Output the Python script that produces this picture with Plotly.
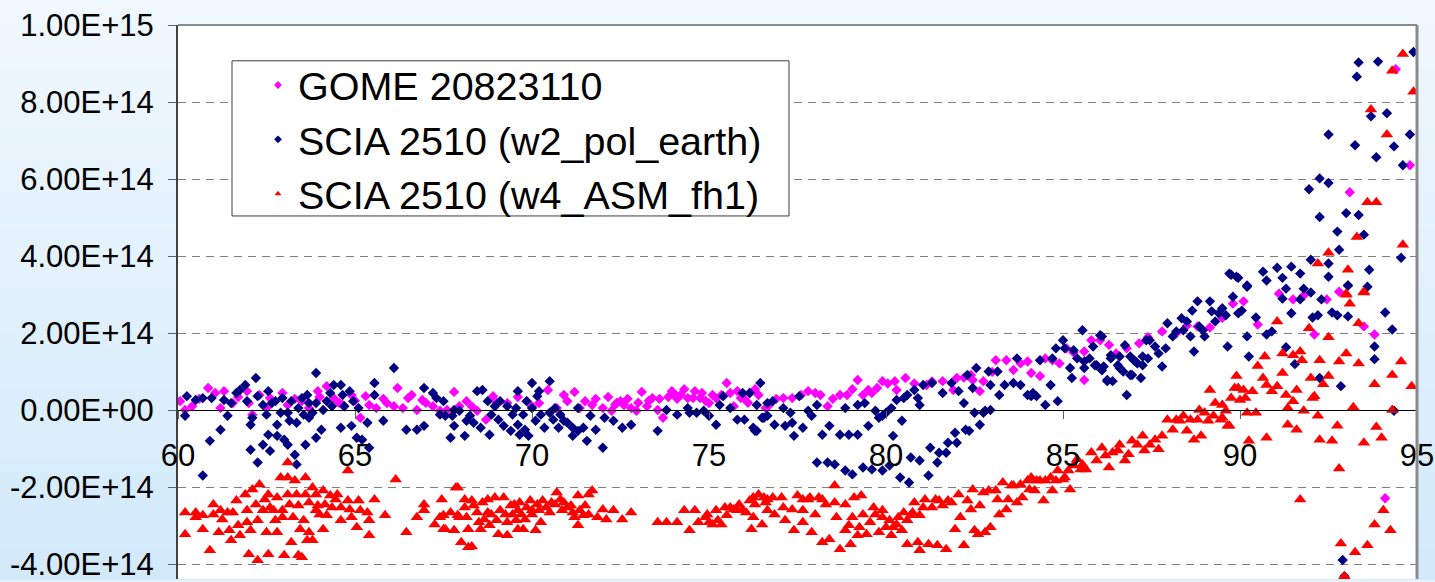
import plotly.graph_objects as go

# ---------------- data (x in degrees, y in units of 1e14) ----------------
gome_pts = [
(60.06,0.24),(60.2,0.01),(60.4,0.11),(60.6,0.30),(60.85,0.58),(61.05,0.45),(61.2,0.06),(61.3,0.50),(61.55,0.19),(61.7,0.35),
(61.95,0.50),(62.0,0.19),(62.1,-0.11),(62.3,0.40),(62.5,0.06),(62.6,0.32),(62.95,0.45),(63.1,0.14),(63.3,0.30),(63.5,0.24),
(63.7,0.06),(63.95,0.50),(64.0,0.35),(64.2,0.63),(64.4,0.32),(64.55,0.20),(64.65,0.14),(64.9,0.40),(65.0,0.25),(65.15,-0.19),
(65.3,0.37),(65.4,0.14),(65.6,0.06),(65.8,0.30),(65.9,0.19),(66.1,0.11),(66.2,0.58),(66.35,0.06),(66.5,0.32),(66.6,0.40),
(66.75,0.01),(66.9,0.27),(67.0,0.20),(67.2,0.11),(67.4,-0.01),(67.6,0.01),(67.8,0.48),(67.95,0.11),(68.15,0.24),(68.3,0.10),
(68.45,-0.01),(68.7,-0.24),(68.9,0.37),(69.0,0.20),(69.3,0.19),(69.6,0.35),(69.85,0.24),(70.0,0.10),(70.2,0.19),(70.45,0.53),
(70.7,0.06),(70.9,0.40),(71.0,0.24),(71.2,0.48),(71.35,0.06),(71.5,0.24),(71.7,0.14),(71.8,0.30),(72.0,0.06),(72.15,0.35),
(72.25,-0.01),(72.35,0.15),(72.4,0.20),(72.5,0.24),(72.6,0.14),(72.7,0.30),(72.8,0.06),(72.95,-0.01),(73.0,0.20),(73.1,0.48),
(73.25,0.11),(73.3,0.25),(73.4,0.32),(73.55,0.01),(73.6,0.30),(73.7,-0.19),(73.85,0.35),(73.95,0.50),(74.0,0.45),(74.1,0.30),
(74.2,0.40),(74.3,0.55),(74.4,0.32),(74.55,0.32),(74.6,0.50),(74.75,0.32),(74.8,0.45),(74.9,0.25),(75.0,0.19),(75.1,0.40),
(75.2,0.32),(75.35,0.40),(75.5,0.71),(75.6,0.45),(75.7,0.11),(75.8,0.50),(75.9,0.32),(76.0,0.30),(76.1,0.20),(76.15,0.45),
(76.3,0.55),(76.4,0.40),(76.6,0.06),(76.7,0.14),(76.9,0.30),(77.1,0.32),(77.35,0.32),(77.6,0.40),(77.8,0.50),(78.0,0.45),
(78.15,0.40),(78.35,0.11),(78.5,0.30),(78.7,0.40),(78.9,0.40),(79.05,0.55),(79.2,0.79),(79.35,0.40),(79.5,0.53),(79.6,0.45),
(79.75,0.58),(79.9,0.76),(80.05,0.70),(80.25,0.76),(80.3,0.53),(80.55,0.84),(80.8,0.70),(81.15,0.66),(81.3,0.75),(81.6,0.76),
(81.9,0.53),(82.0,0.84),(82.2,0.85),(82.4,0.92),(82.45,0.79),(82.65,0.50),(82.75,0.76),(83.0,1.00),(83.1,1.30),(83.4,1.30),
(83.6,1.05),(83.8,1.22),(84.0,1.27),(84.1,0.97),(84.35,0.89),(84.5,1.35),(84.7,1.30),(84.9,1.22),(85.1,1.61),(85.3,1.50),
(85.6,0.79),(85.6,1.53),(85.8,1.82),(86.05,1.82),(86.3,1.70),(86.5,1.48),(86.8,1.61),(87.15,1.74),(87.4,1.90),(87.8,2.05),
(88.2,2.00),(88.5,2.20),(88.8,2.18),(89.15,2.15),(89.5,2.40),(89.8,2.77),(90.1,2.83),(90.5,2.23),(91.1,3.03),(91.5,2.88),
(91.8,2.98),(92.1,1.97),(92.45,2.88),(92.8,3.08),(93.1,5.66),(93.5,2.18),(93.8,1.97),(94.1,-2.28),(94.4,8.85),(94.8,6.36),
]

w2_pts = [
(60.25,0.37),(60.2,-0.14),(60.5,0.27),(60.7,-1.69),(60.7,0.32),(60.9,-0.79),(60.95,0.32),(61.2,-0.50),(61.3,0.27),(61.4,-0.14),
(61.5,0.19),(61.65,0.45),(61.75,0.53),(61.9,0.66),(61.95,0.24),(62.05,-0.37),(62.05,-1.02),(62.1,-0.19),(62.2,0.84),(62.25,-1.35),
(62.25,0.37),(62.4,-0.89),(62.4,0.14),(62.5,-0.11),(62.55,0.50),(62.55,-0.63),(62.6,-1.05),(62.65,0.19),(62.75,0.24),(62.8,-0.37),
(62.8,-0.66),(62.9,-0.06),(62.95,0.32),(63.0,-0.76),(63.1,-0.06),(63.1,-0.89),(63.15,-0.27),(63.2,0.24),(63.3,-1.15),(63.35,-1.40),
(63.35,-0.32),(63.4,0.06),(63.5,0.32),(63.55,-0.11),(63.6,-0.89),(63.65,0.40),(63.7,0.19),(63.7,-0.19),(63.8,-0.06),(63.9,-0.71),
(63.9,0.97),(63.9,0.19),(64.05,-0.50),(64.1,0.01),(64.2,0.24),(64.3,0.45),(64.35,0.11),(64.4,0.66),(64.6,-0.45),(64.6,0.66),
(64.65,0.40),(64.7,0.11),(64.85,0.50),(64.9,-0.40),(64.95,0.24),(65.05,-0.71),(65.1,0.06),(65.2,-0.76),(65.35,-0.32),(65.4,-0.97),
(65.55,0.71),(65.55,0.40),(65.8,-0.27),(66.1,1.10),(66.45,-0.50),(66.75,-0.50),(66.95,0.58),(66.95,-0.40),(67.2,0.45),(67.3,0.32),
(67.4,-0.11),(67.5,0.24),(67.55,-0.14),(67.7,-0.71),(67.75,-0.14),(67.8,0.01),(67.8,-0.40),(67.95,-0.01),(68.1,-0.66),(68.15,-0.27),
(68.25,-0.14),(68.35,-0.32),(68.45,0.50),(68.55,-0.45),(68.6,0.53),(68.75,0.24),(68.8,-0.63),(68.85,-0.11),(68.95,0.11),(69.05,-0.24),
(69.1,0.24),(69.2,-0.40),(69.3,0.11),(69.4,-0.53),(69.45,-0.11),(69.55,0.06),(69.6,0.50),(69.6,-0.37),(69.65,-0.63),(69.75,-0.11),
(69.8,-0.50),(69.85,0.24),(69.9,-0.66),(70.0,0.71),(70.0,0.06),(70.1,-0.27),(70.15,0.37),(70.2,0.50),(70.25,-0.11),(70.35,-0.45),
(70.5,0.76),(70.5,-0.06),(70.6,-0.24),(70.65,0.06),(70.75,-0.45),(70.8,-0.11),(70.9,-0.27),(71.0,-0.32),(71.15,-0.66),(71.15,-0.45),
(71.3,0.06),(71.3,-0.53),(71.45,-0.45),(71.55,-0.79),(71.65,-0.14),(71.8,-0.50),(72.0,-0.97),(72.05,-0.19),(72.3,-0.27),(72.55,-0.45),
(72.8,-0.37),(73.55,-0.53),(73.8,0.01),(74.1,-0.11),(74.4,0.06),(74.45,-0.06),(74.65,-0.06),(74.85,-0.01),(75.0,-0.14),(75.2,-0.37),
(75.3,0.14),(75.4,0.37),(75.6,0.06),(75.8,-0.24),(75.95,0.45),(76.0,-0.24),(76.15,0.45),(76.25,-0.45),(76.35,-0.53),(76.45,0.71),
(76.55,-0.19),(76.65,0.19),(76.35,0.14),(76.3,-0.53),(76.5,-0.19),(76.65,-0.14),(76.8,0.24),(76.85,-0.37),(77.1,0.06),(77.15,-0.40),
(77.3,-0.06),(77.4,-0.66),(77.35,-0.32),(77.55,0.37),(77.65,-0.45),(77.8,-0.01),(77.9,-0.14),(78.05,0.14),(78.05,-1.35),(78.2,-0.63),
(78.35,-1.35),(78.4,-0.40),(78.55,-1.40),(78.7,-0.63),(78.85,0.06),(78.85,-1.56),(78.95,-0.63),(79.05,-1.66),(79.2,0.14),(79.2,-0.63),
(79.35,-1.48),(79.4,0.19),(79.5,-0.40),(79.6,-1.53),(79.7,-0.01),(79.9,-1.56),(79.8,-0.19),(79.9,-0.14),(80.0,-0.06),(80.1,-1.43),
(80.2,-0.66),(80.15,0.06),(80.3,0.27),(80.4,-1.74),(80.45,-0.27),(80.5,0.32),(80.6,0.40),(80.7,-1.22),(80.65,-1.87),(80.8,0.53),
(80.9,0.32),(80.95,-1.30),(80.95,0.14),(81.05,0.66),(81.2,-1.69),(81.25,-0.97),(81.3,0.71),(81.45,-1.35),(81.5,-1.10),(81.6,0.45),
(81.7,-1.10),(81.75,-0.84),(81.85,0.71),(81.95,-0.58),(82.0,-0.84),(82.05,0.50),(82.2,0.19),(82.25,-0.50),(82.3,0.92),(82.35,-0.53),
(82.45,0.58),(82.5,-0.06),(82.55,1.10),(82.65,-0.37),(82.75,-0.06),(82.8,-0.01),(82.9,1.01),(82.95,0.01),(82.95,0.66),(83.15,1.01),
(83.2,0.40),(83.35,0.66),(83.6,0.71),(83.7,1.35),(83.8,0.66),(84.0,0.40),(84.1,0.37),(84.15,0.45),(84.25,0.37),(84.35,1.30),
(84.5,0.14),(84.65,0.66),(84.7,1.35),(84.8,1.61),(84.85,0.24),(85.0,1.82),(85.05,1.61),(85.2,1.10),(85.25,0.84),(85.3,1.56),
(85.4,1.35),(85.55,2.08),(85.6,1.10),(85.75,1.35),(85.85,1.66),(85.95,1.17),(86.05,1.95),(86.1,1.04),(86.25,0.76),(86.35,1.35),
(86.55,1.17),(86.6,1.40),(86.75,1.69),(86.8,0.40),(86.9,0.92),(87.0,1.30),(87.1,1.22),(87.2,0.84),(87.25,1.40),(87.35,1.82),
(85.6,1.27),(85.9,1.17),(86.1,1.92),(86.15,1.14),(86.25,0.79),(86.35,1.43),(86.4,0.76),(86.6,1.10),(86.7,1.01),(86.9,1.40),
(86.95,0.92),(87.05,1.27),(87.25,1.17),(87.4,1.35),(87.45,1.82),(87.6,1.66),(87.7,1.48),(87.8,1.14),(87.9,1.61),(87.95,2.26),
(88.1,1.92),(88.2,2.05),(88.35,2.39),(88.4,2.08),(88.5,2.31),(88.6,1.92),(88.65,2.59),(88.7,1.53),(88.8,2.83),(88.85,2.18),
(88.95,2.08),(89.0,1.92),(89.15,2.83),(89.2,2.57),(89.3,2.31),(89.4,2.52),(89.5,2.65),(89.6,2.47),(89.65,1.66),(89.7,3.55),
(89.8,2.95),(89.9,3.47),(89.95,2.52),(90.05,2.59),(90.2,3.21),(90.2,1.92),(90.25,1.40),(90.45,2.41),(90.75,1.97),(90.9,2.05),
(91.2,2.90),(91.3,1.64),(91.45,2.52),(91.55,1.20),(91.7,2.88),(91.8,3.16),(92.0,3.06),(92.05,2.41),(92.2,2.47),(92.25,0.84),
(92.3,2.88),(92.6,2.54),(92.75,2.47),(92.85,0.63),(93.05,3.24),(93.05,2.44),(93.6,3.21),(93.8,1.33),(93.8,1.66),(94.1,2.54),
(94.3,2.10),(94.35,-0.01),(92.9,-3.88),(92.95,-4.30),(89.75,3.52),(89.95,3.44),(90.2,3.24),(90.65,3.60),(90.75,3.37),(91.05,3.70),
(91.2,3.44),(91.3,3.16),(91.45,3.73),(91.7,3.55),(92.0,3.91),(92.25,5.02),(91.95,5.74),(92.25,6.02),(92.5,5.90),(92.5,7.16),
(92.5,3.81),(92.5,3.47),(92.75,4.64),(92.8,4.17),(93.0,5.12),(93.05,3.24),(93.25,6.88),(93.3,8.66),(93.35,9.03),(93.35,5.07),
(93.5,4.56),(93.65,3.65),(93.7,7.63),(93.85,6.57),(93.9,9.05),(94.15,7.71),(94.35,6.85),(94.55,3.96),(94.6,6.36),(94.8,7.16),
(94.9,9.30),
]

w4_pts = [
(60.2,-2.65),(60.2,-3.21),(60.5,-2.65),(60.5,-2.77),(60.7,-3.08),(60.7,-2.72),(60.9,-3.63),(61.0,-2.44),(61.0,-2.70),(61.15,-3.16),
(61.2,-2.59),(61.25,-2.83),(61.4,-2.65),(61.45,-3.11),(61.5,-3.37),(61.55,-2.65),(61.65,-2.34),(61.7,-2.98),(61.75,-3.24),(61.95,-2.59),
(61.9,-2.18),(61.95,-2.90),(62.05,-3.11),(62.0,-3.73),(62.1,-2.05),(62.2,-2.44),(62.25,-2.85),(62.25,-3.89),(62.3,-1.92),(62.4,-2.59),
(62.45,-2.31),(62.5,-3.16),(62.55,-3.73),(62.55,-2.18),(62.6,-2.52),(62.7,-2.59),(62.75,-2.85),(62.8,-3.16),(62.8,-2.26),(62.9,-1.74),
(62.95,-2.77),(62.95,-2.59),(63.0,-3.76),(63.1,-2.18),(63.1,-1.35),(63.1,-1.74),(63.15,-2.44),(63.2,-3.42),(63.25,-2.77),(63.3,-1.82),
(63.35,-2.18),(63.4,-2.47),(63.4,-3.76),(63.45,-3.08),(63.5,-3.81),(63.55,-2.85),(63.6,-1.74),(63.6,-2.18),(63.65,-3.37),(63.7,-2.39),
(63.7,-3.16),(63.8,-3.37),(63.8,-2.00),(63.9,-2.59),(63.9,-2.18),(63.95,-2.47),(64.0,-2.70),(64.1,-2.08),(64.1,-3.08),(64.15,-2.44),
(64.2,-2.72),(64.3,-2.21),(64.35,-2.52),(64.45,-2.31),(64.5,-2.18),(64.6,-2.52),(64.6,-2.85),(64.8,-1.56),(64.8,-2.34),(64.85,-2.57),
(64.9,-2.77),(65.05,-3.03),(65.1,-2.34),(65.15,-2.59),(65.35,-2.65),(65.4,-2.85),(65.4,-3.24),(65.55,-2.31),(65.85,-2.72),(66.15,-1.79),
(66.45,-3.16),(66.75,-2.77),(66.95,-2.44),(66.95,-2.59),(67.25,-2.96),(67.4,-2.77),(67.45,-2.31),(67.5,-3.08),(67.7,-2.65),(67.8,-3.11),
(67.9,-2.00),(67.95,-2.77),(68.0,-3.42),(68.1,-2.31),(68.1,-2.52),(68.2,-3.08),(68.2,-3.55),(67.5,-2.72),(67.55,-3.08),(67.85,-2.00),
(67.9,-2.72),(68.15,-2.77),(68.3,-3.53),(68.3,-2.34),(68.35,-2.47),(68.45,-2.65),(68.5,-2.90),(68.55,-3.08),(68.6,-2.39),(68.65,-2.83),
(68.75,-2.31),(68.75,-2.65),(68.8,-2.98),(68.85,-2.70),(68.95,-2.26),(69.0,-2.85),(69.05,-3.21),(69.1,-2.59),(69.2,-2.26),(69.25,-2.70),
(69.3,-2.90),(69.3,-3.24),(69.4,-2.47),(69.45,-2.70),(69.5,-2.44),(69.55,-2.85),(69.6,-3.08),(69.6,-2.59),(69.65,-2.39),(69.7,-2.70),
(69.75,-3.08),(69.8,-2.83),(69.85,-2.52),(69.95,-2.34),(70.0,-2.59),(70.0,-2.70),(70.1,-3.11),(70.15,-2.44),(70.2,-2.59),(70.25,-2.90),
(70.3,-2.34),(70.4,-2.52),(70.5,-2.65),(70.55,-2.39),(70.65,-2.44),(70.7,-2.13),(70.8,-2.31),(70.85,-2.59),(70.9,-2.39),(71.0,-2.52),
(71.1,-2.47),(71.15,-2.65),(71.2,-2.77),(71.3,-2.98),(71.3,-2.21),(71.35,-2.59),(71.45,-2.72),(71.5,-2.47),(71.6,-2.18),(71.6,-2.70),
(71.7,-2.08),(71.85,-2.77),(72.0,-2.57),(72.1,-2.83),(72.3,-2.59),(72.55,-2.83),(72.8,-2.65),(73.55,-2.90),(73.8,-2.90),(74.1,-2.90),
(74.3,-2.59),(74.45,-3.11),(74.6,-2.59),(74.7,-2.90),(74.9,-2.77),(74.95,-2.70),(75.0,-2.90),(75.1,-2.96),(75.2,-2.59),(75.25,-2.85),
(75.35,-2.96),(75.45,-2.52),(75.5,-2.72),(75.6,-2.52),(75.7,-2.57),(75.8,-2.59),(75.85,-2.44),(75.95,-2.59),(76.05,-2.65),(76.15,-2.34),
(76.2,-3.08),(76.3,-2.44),(76.4,-2.18),(76.5,-2.96),(76.55,-2.26),(76.65,-2.59),(76.25,-2.26),(76.25,-2.77),(76.6,-2.39),(76.65,-2.31),
(76.8,-2.26),(76.85,-2.70),(77.05,-2.26),(77.1,-2.52),(77.15,-2.85),(77.35,-2.57),(77.4,-3.11),(77.5,-2.21),(77.65,-2.31),(77.65,-2.59),
(77.65,-2.90),(77.8,-2.31),(77.85,-2.26),(77.9,-3.16),(78.0,-2.70),(78.1,-2.26),(78.2,-2.31),(78.2,-3.42),(78.3,-2.44),(78.4,-3.34),
(78.55,-1.95),(78.55,-2.39),(78.6,-2.77),(78.7,-3.60),(78.85,-2.44),(78.85,-3.11),(78.95,-2.98),(79.0,-3.47),(79.05,-2.77),(79.1,-2.26),
(79.2,-3.24),(79.25,-3.03),(79.3,-2.21),(79.35,-2.70),(79.45,-3.21),(79.55,-2.90),(79.65,-2.52),(79.7,-2.70),(79.8,-3.16),(79.9,-2.59),
(79.9,-2.77),(80.0,-3.03),(80.1,-2.85),(80.15,-3.24),(80.2,-3.03),(80.3,-2.96),(80.35,-2.77),(80.45,-3.11),(80.5,-2.65),(80.6,-3.47),
(80.6,-2.85),(80.7,-2.72),(80.75,-2.65),(80.8,-2.39),(80.9,-3.42),(80.95,-2.72),(80.95,-3.63),(81.05,-2.52),(81.1,-2.31),(81.2,-3.47),
(81.3,-2.52),(81.4,-2.31),(81.45,-3.50),(81.5,-2.34),(81.6,-2.47),(81.7,-3.60),(81.75,-2.34),(81.85,-2.39),(81.95,-3.08),(82.05,-2.18),
(82.1,-2.77),(82.2,-3.50),(82.3,-2.34),(82.4,-2.57),(82.45,-2.05),(82.5,-3.11),(82.6,-3.21),(82.65,-2.47),(82.75,-2.13),(82.8,-3.16),
(82.9,-2.08),(82.95,-3.03),(83.1,-2.08),(83.15,-2.31),(83.2,-2.70),(83.3,-1.87),(83.4,-2.57),(83.45,-2.31),(83.55,-1.95),(83.6,-1.95),
(83.7,-2.39),(83.8,-1.92),(83.85,-2.26),(84.0,-1.82),(84.05,-2.05),(84.1,-1.74),(84.2,-2.08),(84.25,-1.82),(84.35,-1.82),(84.45,-2.34),
(84.5,-1.82),(84.65,-1.74),(84.7,-2.08),(84.8,-1.82),(84.85,-1.56),(85.0,-1.79),(85.05,-1.74),(85.15,-1.56),(85.2,-2.05),(85.3,-1.43),
(85.4,-1.27),(85.5,-1.53),(85.55,-1.40),(85.65,-1.53),(85.8,-1.09),(85.95,-1.30),(86.1,-0.97),(86.2,-1.17),(86.3,-1.48),(86.4,-1.09),
(86.55,-1.04),(86.6,-0.89),(86.75,-1.30),(86.85,-1.14),(86.95,-0.79),(87.1,-0.89),(87.25,-0.66),(87.3,-1.04),(87.45,-0.89),(87.6,-0.76),
(87.7,-1.01),(87.8,-0.66),(87.95,-0.24),(88.1,-0.50),(88.2,-0.24),(88.3,-0.27),(88.4,-0.14),(88.5,-0.53),(88.6,-0.24),(88.7,-0.76),
(88.8,-0.24),(88.85,0.01),(88.9,-0.66),(89.0,-0.06),(89.1,-0.27),(89.25,-0.14),(89.3,0.19),(89.45,-0.24),(89.5,0.14),(89.6,-0.01),
(89.7,-0.40),(89.75,0.32),(89.85,0.58),(89.9,0.89),(90.0,0.27),(90.1,0.53),(89.15,0.53),(89.5,-0.19),(89.65,-0.40),(89.95,0.58),
(90.15,0.32),(90.2,-0.06),(90.25,-0.79),(90.35,0.50),(90.45,-0.06),(90.5,1.15),(90.65,0.84),(90.7,1.40),(90.75,-0.71),(90.75,0.66),
(90.9,0.50),(91.05,0.63),(91.05,2.31),(91.2,0.97),(91.2,1.48),(91.3,0.40),(91.35,-0.37),(91.35,0.06),(91.5,1.43),(91.5,0.24),
(91.6,0.53),(91.6,-0.50),(91.7,1.53),(91.7,-2.31),(91.75,1.30),(91.8,-0.01),(91.95,2.13),(92.0,0.84),(92.05,0.32),(92.1,0.37),
(92.2,-0.14),(92.25,1.30),(92.25,-0.76),(92.35,0.68),(92.5,0.89),(92.5,1.90),(92.6,-0.79),(92.75,-0.40),(92.8,-1.51),(92.8,1.27),
(92.85,-3.45),(93.0,1.48),(93.0,3.00),(93.1,2.77),(93.2,0.08),(93.25,-3.68),(93.35,1.22),(93.35,2.26),(93.5,3.08),(93.5,-0.84),
(93.6,-3.50),(93.8,-2.96),(93.8,0.68),(93.85,-0.43),(94.0,-0.71),(94.05,-2.59),(94.25,-3.11),(94.3,0.92),(94.3,0.01),(94.55,1.27),
(94.85,0.63),(92.95,-4.30),(92.2,3.81),(92.5,4.09),(93.05,3.65),(93.0,3.03),(93.3,4.50),(93.5,3.06),(93.6,5.40),(93.85,5.40),
(93.7,7.81),(94.15,7.16),(94.3,8.81),(94.6,4.30),(94.6,9.25),(94.9,8.27),
]

y_tickvals = [-4e14, -2e14, 0, 2e14, 4e14, 6e14, 8e14, 1e15]
y_ticktext = ["-4.00E+14", "-2.00E+14", "0.00E+00", "2.00E+14", "4.00E+14",
              "6.00E+14", "8.00E+14", "1.00E+15"]
x_tickvals = [60, 65, 70, 75, 80, 85, 90, 95]

names = ["GOME 20823110", "SCIA 2510 (w2_pol_earth)", "SCIA 2510 (w4_ASM_fh1)"]
colors = ["#ff00ff", "#000080", "#ff0000"]
symbols = ["diamond", "diamond", "triangle-up"]
sizes = [8, 8, 11]

SCALE = 1e14
series = [gome_pts, w2_pts, w4_pts]

Y_MIN, Y_MAX = -4.374e14, 1e15

fig = go.Figure()
for pts, name, col, sym, sz in zip(series, names, colors, symbols, sizes):
    fig.add_trace(go.Scatter(
        x=[p[0] for p in pts], y=[p[1] * SCALE for p in pts],
        mode="markers", name=name, showlegend=False,
        marker=dict(color=col, symbol=sym, size=sz, line=dict(width=0)),
    ))
# small legend symbols, like the reference
for name, col, sym in zip(names, colors, symbols):
    fig.add_trace(go.Scatter(
        x=[None], y=[None], mode="markers", name=name,
        marker=dict(color=col, symbol=sym, size=6, line=dict(width=0)),
    ))

# background gradient (light blue) in the paper area
shapes = []
N = 40
top_c = (240, 248, 254)
bot_c = (211, 234, 251)
for i in range(N):
    t = i / (N - 1)
    c = tuple(int(round(top_c[k] + (bot_c[k] - top_c[k]) * t)) for k in range(3))
    y1 = 1.05 - i * (1.05 / N)
    y0 = y1 - 1.05 / N - 0.002
    shapes.append(dict(type="rect", xref="paper", yref="paper", x0=-0.2, x1=1.05,
                       y0=max(y0, -0.01), y1=y1 + 0.001, line=dict(width=0),
                       fillcolor="rgb(%d,%d,%d)" % c, layer="below"))
shapes.append(dict(type="rect", xref="paper", yref="paper", x0=0, x1=1, y0=0, y1=1,
                   line=dict(width=0), fillcolor="white", layer="below"))
# plot frame: top and right borders
shapes.append(dict(type="line", xref="paper", yref="paper", x0=0, x1=1, y0=1, y1=1,
                   line=dict(color="#8a8a8a", width=2), layer="above"))
shapes.append(dict(type="line", xref="paper", yref="paper", x0=1, x1=1, y0=0, y1=1,
                   line=dict(color="#8a8a8a", width=3), layer="above"))
# legend box
W, H = 1239.0, 557.0
def px_x(px):
    return (px - 178) / W
def px_y(py):
    return (582 - py) / H
shapes.append(dict(type="rect", xref="paper", yref="paper",
                   x0=px_x(232), x1=px_x(789), y0=px_y(217), y1=px_y(61),
                   line=dict(color="#3c3c3c", width=1), fillcolor="white", layer="above"))

FONT = "Liberation Sans, Arial, sans-serif"
fig.update_layout(
    width=1435, height=582,
    margin=dict(l=178, r=18, t=25, b=0, pad=0),
    paper_bgcolor="#e6f3fd", plot_bgcolor="white",
    font=dict(family=FONT, color="black"),
    shapes=shapes,
    showlegend=True,
    legend=dict(x=px_x(258), y=px_y(53), xanchor="left", yanchor="top",
                bgcolor="rgba(0,0,0,0)", borderwidth=0,
                font=dict(size=39.5, family=FONT, color="black"),
                itemwidth=30, tracegroupgap=0),
    xaxis=dict(range=[60, 95], tickvals=x_tickvals, ticktext=[str(v) for v in x_tickvals],
               showgrid=False, zeroline=False, showline=True, linecolor="black", linewidth=1,
               ticks="outside", ticklen=8, tickcolor="#606060", tickwidth=1,
               tickfont=dict(size=31, family=FONT, color="black"),
               anchor="free", position=(0 - Y_MIN) / (Y_MAX - Y_MIN),
               ticklabelstandoff=9),
    yaxis=dict(range=[Y_MIN, Y_MAX], tickvals=y_tickvals, ticktext=y_ticktext,
               showgrid=True, gridcolor="#808080", gridwidth=1, griddash="8px,6px",
               zeroline=False, showline=True, linecolor="#404040", linewidth=2,
               ticks="outside", ticklen=8, tickcolor="#606060", tickwidth=1,
               tickfont=dict(size=31, family=FONT, color="black"),
               ticklabelstandoff=8, ticklabeloverflow="allow"),
)

fig.write_html("out.html", config={"displayModeBar": False},
               post_script="document.body.style.margin='0';document.body.style.padding='0';"
                           "document.body.style.overflow='hidden';")
